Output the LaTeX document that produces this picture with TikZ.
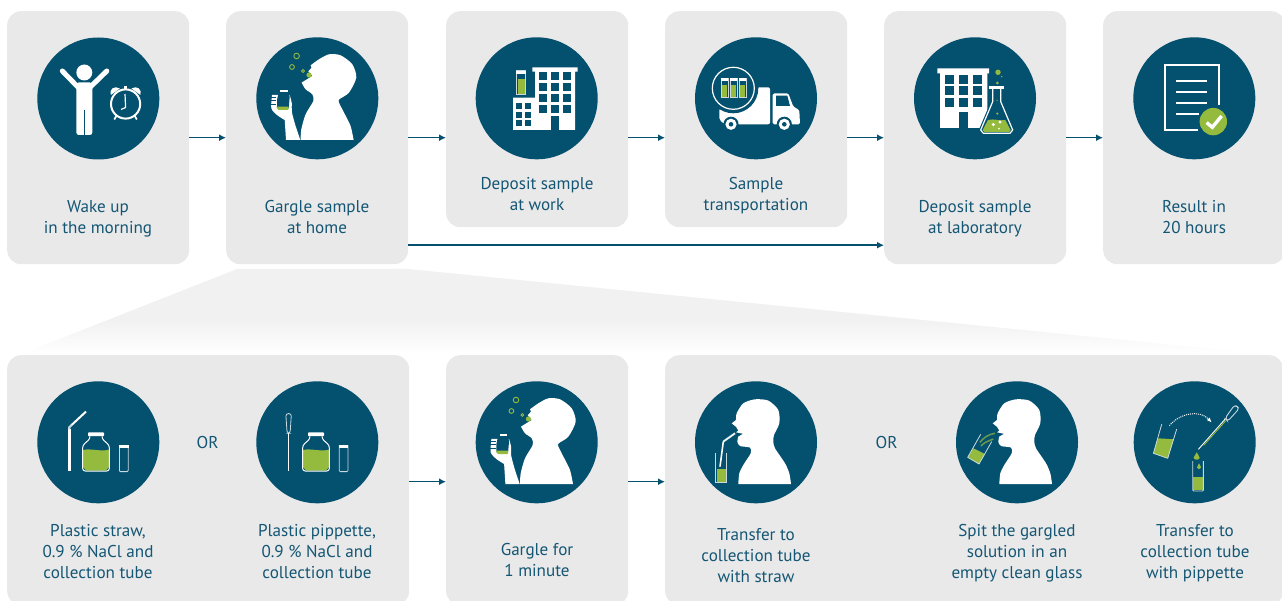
\documentclass[tikz,border=0pt]{standalone}
\usepackage{fontspec}
\setmainfont{PT Sans}
\usetikzlibrary{arrows.meta}
\definecolor{deep}{HTML}{04506F}
\definecolor{panel}{HTML}{E9E9E9}
\definecolor{leaf}{HTML}{95BB3E}
\definecolor{ink}{HTML}{145674}
\definecolor{rim}{HTML}{C9D9DF}
\definecolor{funnel}{HTML}{F0F1F0}
\pgfdeclareverticalshading{funnelfade}{100bp}{color(0bp)=(white); color(25bp)=(white); color(45bp)=(funnel); color(100bp)=(funnel)}
\tikzset{
  box/.style={fill=panel, rounded corners=14pt, anchor=north west, minimum width=182pt, minimum height=253pt, inner sep=0},
  disc/.style={circle, fill=deep, minimum size=122pt, inner sep=0},
  lbl/.style={text=ink, align=center, inner sep=0, font=\fontsize{17.1}{21}\selectfont},
  arw/.style={draw=deep, line width=1.4pt, ->, >={Latex[length=7pt,width=7pt]}},
  % small glass tube, origin at top left
  vial/.pic={
    \fill[deep] (0,0) rectangle (9,24);
    \fill[leaf] (0.8,8.5) rectangle (8.2,23.4);
    \draw[rim, line width=0.6pt] (0,0) rectangle (9,24);
    \fill[white] (-0.3,0) rectangle (9.3,3);
  },
  % bottle, origin on the level of the disc centre
  jar/.pic={
    \fill[leaf] (-12.8,7.7) .. controls (-6,5.7) and (5,9.7) .. (12.8,7.3) -- (12.8,25) -- (10,28.2) -- (-10,28.2) -- (-12.8,25) -- cycle;
    \draw[white, line width=1pt, rounded corners=2.5pt] (-6,-6) -- (-6,-3.5) -- (-13.3,3) -- (-13.3,28.7) -- (13.3,28.7) -- (13.3,3) -- (6,-3.5) -- (6,-6);
    \fill[white, rounded corners=0.8pt] (-8,-10) rectangle (8,-6.2);
  },
  emptytube/.pic={
    \draw[rim, line width=0.8pt, rounded corners=1pt] (-4.4,3) -- (-4.4,29.3) -- (4.4,29.3) -- (4.4,3);
    \fill[white] (-4.7,2.7) rectangle (4.7,6);
  },
  % head thrown back, with bottle in the hand
  gargling/.pic={
    \fill[white] plot[smooth, tension=0.45] coordinates {(36.3,41.7) (33.3,27.7) (26.7,14.3) (21.7,4.3) (22,1) (31.7,-5.7) (39,-20.7) (35,-34) (23.3,-43) (11.7,-44) (1.7,-39) (-6.7,-33)} -- (-5.7,-30.7) -- (-9,-27) -- (-5,-22.3) -- (-15.7,-15.7) -- plot[smooth, tension=0.45] coordinates {(-15.7,-15.7) (-11.7,-9) (-5,-4) (-4,2.7) (-11.7,16) (-16,31) (-16.7,41.7)} -- cycle;
    \fill[white] plot[smooth, tension=0.45] coordinates {(-17,41.7) (-22,26.7) (-25.5,13.3) (-25.5,5) (-27.5,-3)} -- (-38.6,-3.5) -- (-45.3,-3.3) -- plot[smooth, tension=0.45] coordinates {(-45.3,-3.3) (-46,10) (-40.3,16.7) (-32.6,21.7)} -- (-31.3,41.7) -- cycle;
    \fill[deep] (-38.6,-6) -- (-29.3,-6) -- (-27.6,-1.6) -- (-28.6,10) -- (-40.3,10) -- (-40.3,1.7) -- cycle;
    \fill[leaf] (-41,8.4) -- (-28.6,8.4) -- (-29,11.7) -- (-39,11.7) -- cycle;
    \fill[white] (-37,-8.3) rectangle (-29.3,-6);
    \draw[deep, line width=0.7pt] (-46,-1) -- (-41,-1) (-46.5,2.3) -- (-41,2.3) (-46.5,5.6) -- (-41,5.6);
    \fill[leaf] (-8.3,-23.3) circle (2.6);
    \draw[leaf, line width=0.9pt] (-20.7,-42.3) circle (2.8) (-25.3,-31.3) circle (2.4) (-14.3,-27.3) circle (1.4);
  },
  % head and shoulders seen from the side
  profile/.pic={
    \fill[white] plot[smooth, tension=0.45] coordinates {(35,41.7) (33.3,31) (29,21) (19,6) (17.3,-0.7) (18,-7.3) (23.3,-19) (22.3,-32.3) (12.3,-41.7) (-1,-43) (-12.7,-39) (-19.3,-29) (-20,-22.3)} -- (-24.3,-19) -- (-20,-15.5) -- (-17.7,-11.7) -- (-20,-10) -- (-13,-8.5) -- (-17.7,-5.7) -- plot[smooth, tension=0.45] coordinates {(-17.7,-5.7) (-18.7,-0.7) (-16,3.7) (-6,5.3) (-5.3,11) (-12.7,22.7) (-16.7,31) (-17.7,41.7)} -- cycle;
  }
}
\begin{document}
\begin{tikzpicture}[x=1pt, y=-1pt]
  \useasboundingbox (0,0) rectangle (1282,601);
  % funnel below the second step
  \path[shading=funnelfade] (237,269) -- (408,269) -- (1246,352) -- (24,353) -- cycle;
  % steps
  \node[box] (wake) at (7,11) {};
  \node[box] (home) at (226,11) {};
  \node[box, minimum height=216pt] (work) at (446,11) {};
  \node[box, minimum height=216pt] (truck) at (665,11) {};
  \node[box] (lab) at (884,11) {};
  \node[box] (result) at (1103,11) {};
  \node[box, minimum width=402pt, minimum height=250pt] (kit) at (7,355) {};
  \node[box, minimum height=250pt] (gargle) at (446,355) {};
  \node[box, minimum width=618pt, minimum height=250pt] (transfer) at (665,355) {};
  \draw[arw] (wake.east) -- (home.west);
  \draw[arw] (home.east) -- (home.east -| work.west);
  \draw[arw] (home.east -| work.east) -- (home.east -| truck.west);
  \draw[arw] (home.east -| truck.east) -- (lab.west);
  \draw[arw] (lab.east) -- (result.west);
  \draw[arw] ([yshift=-107.5pt]home.east) -- ([yshift=-107.5pt]lab.west);
  \draw[arw] ([yshift=-1.5pt]kit.east) -- ([yshift=-1.5pt]gargle.west);
  \draw[arw] ([yshift=-1.5pt]gargle.east) -- ([yshift=-1.5pt]gargle.east -| transfer.west);
  % discs
  \node[disc] (wakeicon) at (98.3,98.5) {};
  \node[disc] (homeicon) at (317.3,98.3) {};
  \node[disc] (workicon) at (536.7,98.3) {};
  \node[disc] (truckicon) at (756,98.3) {};
  \node[disc] (labicon) at (975,98.3) {};
  \node[disc] (resulticon) at (1194.3,98.3) {};
  \node[disc] (strawicon) at (98.3,442.3) {};
  \node[disc] (pipicon) at (317.3,442.3) {};
  \node[disc] (gargleicon) at (536.7,442.3) {};
  \node[disc] (tubeicon) at (756,442.3) {};
  \node[disc] (spiticon) at (1017,442.3) {};
  \node[disc] (dropicon) at (1194.7,442.3) {};
  % labels
  \node[lbl] (waketext) at (98,219) {Wake up\\in the morning};
  \node[lbl] (hometext) at (317,217.5) {Gargle sample\\at home};
  \node[lbl] (worktext) at (537,194) {Deposit sample\\at work};
  \node[lbl] (trucktext) at (756,195.5) {Sample\\transportation};
  \node[lbl] (labtext) at (975,219) {Deposit sample\\at laboratory};
  \node[lbl] (resulttext) at (1194,217.5) {Result in\\20 hours};
  \node[lbl] (strawtext) at (98,551.5) {Plastic straw,\\0.9 \% NaCl and\\collection tube};
  \node[lbl] (piptext) at (317,551.5) {Plastic pippette,\\0.9 \% NaCl and\\collection tube};
  \node[lbl] (garglertext) at (537,560) {Gargle for\\1 minute};
  \node[lbl] (tubetext) at (756,555.5) {Transfer to\\collection tube\\with straw};
  \node[lbl] (spittext) at (1017,553) {Spit the gargled\\solution in an\\empty clean glass};
  \node[lbl] (droptext) at (1195,553) {Transfer to\\collection tube\\with pippette};
  \node[lbl] (orleft) at (207.5,443) {OR};
  \node[lbl] (orright) at (886.5,443) {OR};
  % wake up
  \begin{scope}[shift={(wakeicon)}]
    \fill[white] (-14,-26) circle (8);
    \draw[white, line width=5pt, line cap=round] (-36,-27.5) -- (-19,-10) (8.5,-27.5) -- (-9.5,-10);
    \fill[white, rounded corners=2.5pt] (-22,-16) rectangle (-6,36.5);
    \draw[deep, line width=1.1pt] (-14,12) -- (-14,37);
    \draw[white, line width=2pt] (27.3,5.5) circle (14.6);
    \draw[white, line width=1.2pt, line join=round] (26.7,-4.5) -- (27.3,9) -- (22.7,11);
    \fill[white] (12.5,-3.5) .. controls (10.5,-9) and (16,-13.5) .. (21.5,-10) -- cycle;
    \fill[white] (42.1,-3.5) .. controls (44.1,-9) and (38.6,-13.5) .. (33.1,-10) -- cycle;
    \fill[white] (25.8,-12.5) rectangle (28.8,-8);
    \draw[white, line width=1.7pt] (18,17.5) -- (16,21) (36.5,17.5) -- (38.5,21);
  \end{scope}
  \pic at (homeicon) {gargling};
  \pic at (gargleicon) {gargling};
  % building and tube
  \begin{scope}[shift={(workicon)}]
    \fill[white] (-1.7,-26.7) rectangle (38.3,31.7) (-4.3,-31) rectangle (41,-26.7) (-23.7,-0.7) rectangle (-1.7,31.7);
    \foreach \xx in {2.3,14.3,26.3} \foreach \yy in {-26.3,-15.3,-4.3,6.7}
      \fill[deep] (\xx,\yy) rectangle +(8,8);
    \fill[deep] (14.3,17.7) rectangle (22.3,31.7);
    \foreach \xx in {-20.7,-11.7} \foreach \yy in {4.7,13.3,22}
      \fill[deep] (\xx,\yy) rectangle +(6,6);
    \pic[scale=1] at (-20,-27.7) {vial};
  \end{scope}
  % truck
  \begin{scope}[shift={(truckicon)}]
    \fill[white, rounded corners=2pt] (-36.7,10) -- (-36.7,21.7) -- (-31,26) -- (14,26) -- (14,-11) -- (2,-11) -- cycle;
    \fill[deep] (-22.7,-10) circle (25);
    \draw[white, line width=1.2pt] (-22.7,-10) circle (21);
    \foreach \xx in {-35,-26,-17} \pic[scale=0.78] at (\xx,-20) {vial};
    \fill[white, rounded corners=1.5pt] (16.7,-5) -- (32.3,-5) -- (37.3,8.3) -- (43.3,11.7) -- (44,26) -- (16.7,26) -- cycle;
    \fill[deep] (20,-2.7) -- (31.3,-2.7) -- (34,7.7) -- (20,7.7) -- cycle;
    \foreach \xx in {-25,28.3} {
      \fill[deep] (\xx,26) circle (7.6);
      \fill[white] (\xx,26) circle (5.6);
      \fill[deep] (\xx,26) circle (2.3);
    }
  \end{scope}
  % laboratory
  \begin{scope}[shift={(labicon)}]
    \fill[white] (-35,-25) rectangle (12.3,29.7) (-37.7,-30) rectangle (14,-25);
    \foreach \xx in {-30,-16,-2} \foreach \yy in {-23.3,-12.3,-0.3}
      \fill[deep] (\xx,\yy) rectangle +(9,9);
    \fill[deep] (-16,13.7) rectangle (-7,29.7);
    \fill[deep, draw=deep, line width=3.5pt, line join=round] (17.7,-9.3) -- (17.7,3.3) -- (5.7,31.7) -- (8.3,35) -- (35,35) -- (37.7,31.7) -- (25.7,3.3) -- (25.7,-9.3) -- cycle;
    \fill[leaf] (13,21.7) .. controls (20,20) and (24,23) .. (30.3,21.7) -- (35.7,32) -- (34,33.7) -- (9.5,33.7) -- (7.5,32) -- cycle;
    \draw[white, line width=1.2pt, line join=round] (17.7,-9.3) -- (17.7,3.3) -- (5.7,31.7) -- (8.3,35) -- (35,35) -- (37.7,31.7) -- (25.7,3.3) -- (25.7,-9.3);
    \fill[white] (13.7,-12.3) rectangle (29.3,-9.3);
    \fill[white] (18.3,26.3) circle (1.7) (25,23.7) circle (1.7) (24,30.3) circle (1);
    \fill[leaf] (23,-26) circle (2.7) (26.7,-21.7) circle (0.8) (22.3,-15.3) circle (1.5) (22,2) circle (0.7) (22.3,15.3) circle (1.2);
  \end{scope}
  % report
  \begin{scope}[shift={(resulticon)}]
    \draw[white, line width=1.9pt] (24.7,6.7) -- (24.7,-33) -- (-29.3,-33) -- (-29.3,31.7) -- (4,31.7);
    \draw[white, line width=1.9pt] (-18.3,-17) -- (12.3,-17) (-18.3,-6.3) -- (12.3,-6.3) (-18.3,4.7) -- (12.3,4.7) (-18.3,15.7) -- (5,15.7);
    \fill[leaf] (19,23.3) circle (13.7);
    \draw[white, line width=3.4pt] (12.3,24.3) -- (18,29) -- (27.3,17.7);
  \end{scope}
  % straw, bottle, tube
  \begin{scope}[shift={(strawicon)}]
    \draw[white, line width=2.8pt] (-29,28.5) -- (-29,-13);
    \draw[rim, line width=2.2pt] (-29,-13) -- (-29,-15) -- (-26.7,-17.3);
    \draw[white, line width=2pt] (-26.7,-17.3) -- (-12.3,-30.7);
    \pic at (-2.3,0) {jar};
    \pic at (25.5,0) {emptytube};
  \end{scope}
  % pipette, bottle, tube
  \begin{scope}[shift={(pipicon)}]
    \draw[rim, line width=0.8pt, rounded corners=2.5pt] (-30.2,-9) -- (-31.5,-28.7) -- (-25.9,-28.7) -- (-27.2,-9) -- cycle;
    \draw[white, line width=1pt] (-28.7,-9) -- (-28.7,28.7);
    \pic at (-1.3,0) {jar};
    \pic at (26.3,0) {emptytube};
  \end{scope}
  % transfer with straw
  \pic at (tubeicon) {profile};
  \begin{scope}[shift={(tubeicon)}]
    \fill[leaf] (-39.5,26.7) rectangle (-30,40);
    \draw[rim, line width=0.8pt] (-40.3,11) -- (-40.3,40.3) -- (-29.3,40.3) -- (-29.3,11);
    \draw[rim, line width=2pt, line join=round] (-32.7,-0.7) -- (-21,-9);
    \draw[white, line width=1.6pt] (-36,24.3) -- (-32.7,-0.7);
    \draw[white, line width=0.8pt, line join=round] (-32.7,-0.7) -- (-21,-9);
  \end{scope}
  % spit
  \pic at (spiticon) {profile};
  \begin{scope}[shift={(spiticon)}]
    \fill[leaf] (-43.7,6) -- (-32,11.7) -- (-38,21.7) -- (-49.3,15) -- cycle;
    \draw[rim, line width=0.8pt, line join=round] (-36.3,-8) -- (-49.3,15) -- (-38,21.7) -- (-25.3,-0.7);
    \draw[leaf!70!deep, line width=1.5pt] (-22,-9) .. controls (-29,-8) and (-34,-4) .. (-37,0);
    \draw[leaf!70!deep, line width=1.5pt] (-23.7,-3.3) .. controls (-29,-1) and (-33,0) .. (-36,3.7);
  \end{scope}
  % transfer with pipette
  \begin{scope}[shift={(dropicon)}]
    \fill[leaf] (-37,-4) -- (-21,-3) -- (-27,16) -- (-41.3,11) -- cycle;
    \draw[rim, line width=0.8pt, line join=round] (-33,-18) -- (-41.3,11) -- (-27,16) -- (-18,-13.3);
    \draw[white, line width=1pt, densely dotted, ->, >={Latex[length=5pt,width=4pt]}] (-25.3,-16.7) .. controls (-15,-29) and (5,-33) .. (17,-19.7);
    \draw[white, line width=0.9pt] (3.7,7) -- (30.3,-23);
    \draw[leaf, line width=0.9pt] (9,3) -- (31,-21.5);
    \draw[rim, line width=0.9pt, rounded corners=3pt] (30.3,-24) -- (40,-37.5) -- (44.7,-34) -- (33,-21) -- cycle;
    \fill[leaf] (2,10) .. controls (1,13) and (-1.2,14) .. (-1,15.5) .. controls (-0.8,18) and (4.8,18) .. (5,15.5) .. controls (5.2,14) and (3,13) .. (2,10) -- cycle;
    \fill[leaf] (4.3,21) .. controls (3.6,23) and (2.2,24) .. (2.3,25.3) .. controls (2.4,27.5) and (6.2,27.5) .. (6.3,25.3) .. controls (6.4,24) and (5,23) .. (4.3,21) -- cycle;
    \fill[leaf] (-1.3,35) rectangle (8,47.8);
    \draw[rim, line width=0.9pt, rounded corners=1pt] (-2,18.7) -- (-2,48.7) -- (8.7,48.7) -- (8.7,18.7);
  \end{scope}
\end{tikzpicture}
\end{document}
